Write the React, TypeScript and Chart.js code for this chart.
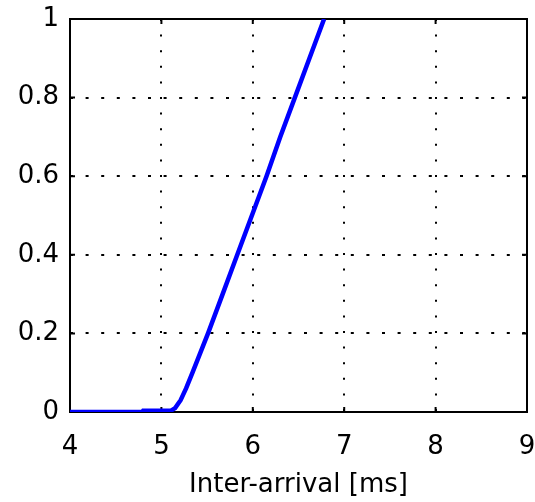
import React, { useEffect, useRef } from "react";
import { Chart, registerables } from "chart.js";

Chart.register(...registerables);

const xValues = [4, 4.79, 4.8, 5.1, 5.15, 5.21, 5.27, 5.34, 5.51, 5.67, 5.83, 5.99, 6.15, 6.3, 6.46, 6.62, 6.78];
const cdfValues = [0, 0, 0.003, 0.003, 0.01, 0.03, 0.06, 0.1, 0.2, 0.3, 0.4, 0.5, 0.6, 0.7, 0.8, 0.9, 1];
const xTickLabels = ["4", "5", "6", "7", "8", "9"];
const yTickLabels = ["0", "0.2", "0.4", "0.6", "0.8", "1"];
const xTitle = "Inter-arrival [ms]";

const FONT = "'DejaVu Sans', Verdana, sans-serif";

const boxPlugin = {
  id: "box",
  beforeDatasetsDraw(chart: any) {
    const { ctx, chartArea: a, scales } = chart;
    ctx.save();
    ctx.strokeStyle = "#000";
    ctx.lineWidth = 2;
    ctx.strokeRect(a.left, a.top, a.right - a.left, a.bottom - a.top);
    ctx.lineWidth = 2;
    const tl = 5;
    ctx.beginPath();
    scales.x.ticks.forEach((t: any) => {
      const px = scales.x.getPixelForValue(t.value);
      ctx.moveTo(px, a.bottom);
      ctx.lineTo(px, a.bottom - tl);
      ctx.moveTo(px, a.top);
      ctx.lineTo(px, a.top + tl);
    });
    scales.y.ticks.forEach((t: any) => {
      const py = scales.y.getPixelForValue(t.value);
      ctx.moveTo(a.left, py);
      ctx.lineTo(a.left + tl, py);
      ctx.moveTo(a.right, py);
      ctx.lineTo(a.right - tl, py);
    });
    ctx.stroke();
    ctx.restore();
  },
};

export default function App() {
  const ref = useRef<HTMLCanvasElement | null>(null);
  useEffect(() => {
    document.body.style.margin = "0";
    const canvas = ref.current!;
    const chart = new Chart(canvas, {
      type: "line",
      data: {
        datasets: [
          {
            data: xValues.map((x, i) => ({ x, y: cdfValues[i] })),
            borderColor: "#0000ff",
            backgroundColor: "#0000ff",
            borderWidth: 4.5,
            pointRadius: 0,
            tension: 0,
            fill: false,
            clip: 0,
          },
        ],
      },
      options: {
        responsive: false,
        animation: false,
        devicePixelRatio: 1,
        layout: { padding: { top: 19, right: 8, left: 0, bottom: 0 } },
        plugins: { legend: { display: false }, tooltip: { enabled: false } },
        scales: {
          x: {
            type: "linear",
            min: 4,
            max: 9,
            afterFit: (s: any) => {
              s.height = 90;
              s.paddingLeft = 0;
              s.paddingRight = 0;
            },
            ticks: {
              stepSize: 1,
              color: "#000",
              font: { family: FONT, size: 26 },
              padding: 20,
              maxRotation: 0,
              callback: (v: any) => {
                const i = Math.round(Number(v) - 4);
                return xTickLabels[i] ?? "";
              },
            },
            grid: {
              drawTicks: false,
              color: (c: any) =>
                c.tick && (c.tick.value === 4 || c.tick.value === 9) ? "rgba(0,0,0,0)" : "#000",
              lineWidth: 2,
            },
            border: { display: false, dash: [2, 13.6] },
            title: {
              display: true,
              text: xTitle,
              color: "#000",
              font: { family: FONT, size: 26 },
              padding: { top: 0, bottom: 1 },
            },
          },
          y: {
            type: "linear",
            min: 0,
            max: 1,
            afterFit: (s: any) => {
              s.width = 70;
              s.paddingTop = 0;
              s.paddingBottom = 0;
            },
            ticks: {
              stepSize: 0.2,
              color: "#000",
              font: { family: FONT, size: 26 },
              padding: 11,
              callback: (v: any) => {
                const i = Math.round(Number(v) / 0.2);
                return yTickLabels[i] ?? "";
              },
            },
            grid: {
              drawTicks: false,
              color: (c: any) =>
                c.tick && (c.tick.value === 0 || Math.abs(c.tick.value - 1) < 1e-9) ? "rgba(0,0,0,0)" : "#000",
              lineWidth: 2,
            },
            border: { display: false, dash: [3, 12.6] },
          },
        },
      },
      plugins: [boxPlugin],
    });
    return () => chart.destroy();
  }, []);
  return (
    <div style={{ width: 535, height: 502 }}>
      <canvas ref={ref} width={535} height={502} style={{ display: "block" }} />
    </div>
  );
}
